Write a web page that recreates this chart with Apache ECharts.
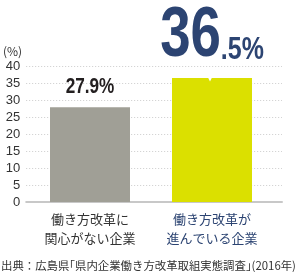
<!DOCTYPE html>
<html>
<head>
<meta charset="utf-8">
<script src="https://cdn.jsdelivr.net/npm/echarts@6/dist/echarts.min.js"></script>
<style>
html,body{margin:0;padding:0;background:#fff;}
#c{width:297px;height:273px;}
</style>
</head>
<body>
<div id="c"></div>
<script>
var categories = ['働き方改革に\n関心がない企業', '働き方改革が\n進んでいる企業'];
var values = [27.9, 36.5];
var yTicks = [0, 5, 10, 15, 20, 25, 30, 35, 40];
var sourceText = '出典：広島県｢県内企業働き方改革取組実態調査｣(2016年)';

var barColors = ['#a09f96', '#dbe000'];
var catColors = ['#333333', '#2c4472'];
var valueColors = ['#231f20', '#2c4472'];
var JP = '"Noto Sans CJK JP", "Noto Sans", sans-serif';
var NUM = '"Liberation Sans", Arial, sans-serif';
var SQUEEZE = 0.78;

var chart = echarts.init(document.getElementById('c'));
chart.setOption({
  animation: false,
  title: {
    text: sourceText,
    left: 1,
    top: 260,
    padding: 0,
    textStyle: {fontSize: 11.4, lineHeight: 12, fontWeight: 'normal', color: '#333', fontFamily: JP}
  },
  grid: [
    {left: 25, right: 15, top: 66, bottom: 71},
    {left: 29, right: 24, top: 66, bottom: 71}
  ],
  xAxis: [
    {
      gridIndex: 0, type: 'category', data: [''],
      axisLine: {show: true, lineStyle: {color: '#c8c8c8', width: 2}},
      axisTick: {show: false}, axisLabel: {show: false}
    },
    {
      gridIndex: 1, type: 'category',
      data: categories.map(function (c, i) {
        return {value: c, textStyle: {color: catColors[i]}};
      }),
      axisLine: {show: false}, axisTick: {show: false},
      axisLabel: {fontSize: 13, lineHeight: 19, margin: 8, fontFamily: JP, color: '#333'}
    }
  ],
  yAxis: [
    {
      gridIndex: 0, type: 'value', min: 0, max: 40, interval: 5,
      name: '(%)', nameLocation: 'end', nameGap: 15,
      nameTextStyle: {align: 'right', verticalAlign: 'middle', padding: [0, 4, 0, 0], fontSize: 12, color: '#333', fontFamily: JP},
      axisLine: {show: false}, axisTick: {show: false},
      axisLabel: {fontSize: 13, color: '#333', margin: 6, fontFamily: '"Liberation Sans", Arial, sans-serif',
        formatter: function (v) { return yTicks.indexOf(v) >= 0 ? String(v) : ''; }},
      splitLine: {show: true, lineStyle: {color: '#cccccc', type: [1, 2], width: 1}}
    },
    {
      gridIndex: 1, type: 'value', min: 0, max: 40, interval: 5,
      axisLine: {show: false}, axisTick: {show: false}, axisLabel: {show: false},
      splitLine: {show: false}
    }
  ],
  series: [{
    type: 'bar',
    xAxisIndex: 1, yAxisIndex: 1,
    barWidth: 80,
    data: values.map(function (v, i) {
      return {value: v, itemStyle: {color: barColors[i]}};
    }),
    markPoint: {
      silent: true,
      symbol: 'triangle',
      symbolRotate: 180,
      symbolSize: [5, 5],
      symbolOffset: [-2, 1],
      itemStyle: {color: '#ffffff'},
      label: {show: false},
      data: [{coord: [1, values[1]]}]
    }
  }]
});

// value labels, horizontally condensed, placed via the library's scales
var mctx = document.createElement('canvas').getContext('2d');
function textW(t, size) { mctx.font = 'bold ' + size + 'px ' + NUM; return mctx.measureText(t).width; }
var graphics = [];
values.forEach(function (v, i) {
  var p = chart.convertToPixel({seriesIndex: 0}, [i, v]);
  var s = v.toFixed(1).split('.');
  if (i === 0) {
    graphics.push({
      type: 'text', x: p[0], y: p[1] - 20.5, scaleX: SQUEEZE, silent: true,
      style: {text: s[0] + '.' + s[1] + '%', fill: valueColors[i], fontFamily: NUM, fontWeight: 'bold', fontSize: 22,
        align: 'center', verticalAlign: 'middle'}
    });
  } else {
    var bigSize = 70, smallSize = 32;
    var wa = textW(s[0], bigSize) * SQUEEZE;
    var wb = textW('.' + s[1] + '%', smallSize) * SQUEEZE;
    var join = p[0] - (wa + wb) / 2 + wa;
    var baseline = p[1] - 17;
    graphics.push({
      type: 'text', x: join, y: baseline - 0.3465 * bigSize, scaleX: SQUEEZE, silent: true,
      style: {text: s[0], fill: valueColors[i], fontFamily: NUM, fontWeight: 'bold', fontSize: bigSize,
        align: 'right', verticalAlign: 'middle'}
    });
    graphics.push({
      type: 'text', x: join, y: baseline - 0.3465 * smallSize, scaleX: SQUEEZE, silent: true,
      style: {text: '.' + s[1] + '%', fill: valueColors[i], fontFamily: NUM, fontWeight: 'bold', fontSize: smallSize,
        align: 'left', verticalAlign: 'middle'}
    });
  }
});
chart.setOption({graphic: graphics});
</script>
</body>
</html>
